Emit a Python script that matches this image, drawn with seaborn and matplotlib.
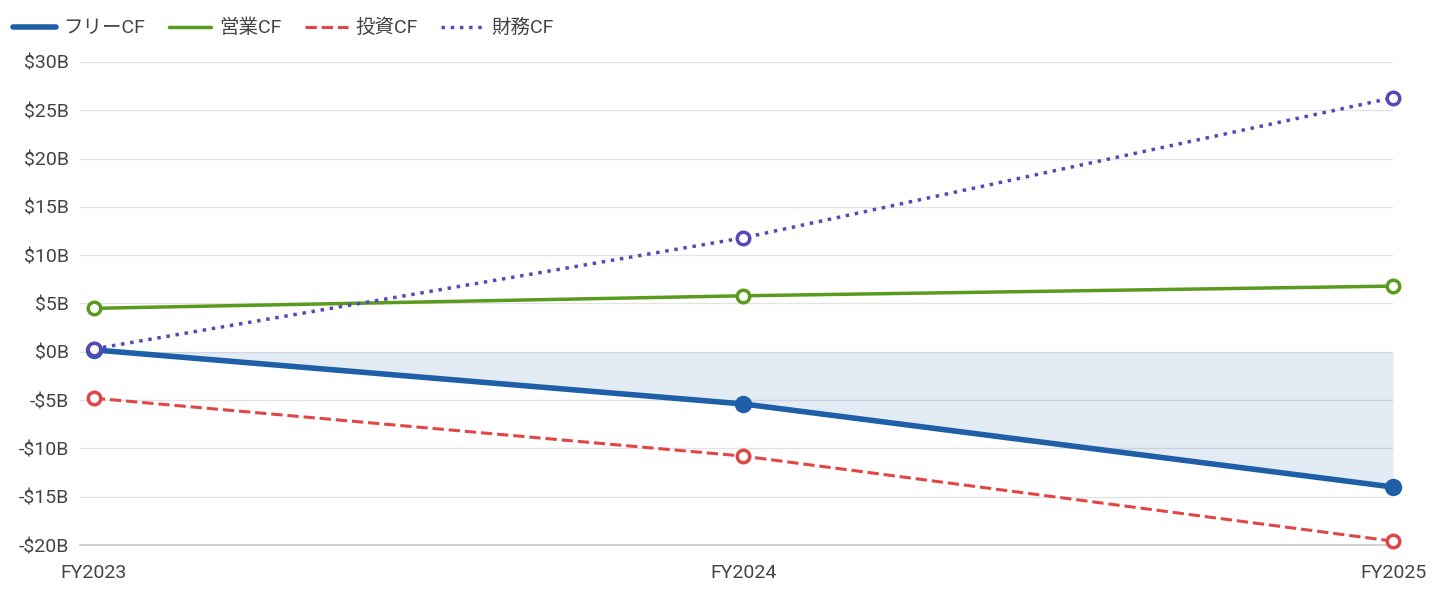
import numpy as np
import pandas as pd
import seaborn as sns
import matplotlib.pyplot as plt

years = ["FY2023", "FY2024", "FY2025"]
free_cf = [0.2, -5.4, -14.0]
operating_cf = [4.5, 5.8, 6.8]
investing_cf = [-4.8, -10.8, -19.6]
financing_cf = [0.3, 11.8, 26.3]
y_ticks = [-20, -15, -10, -5, 0, 5, 10, 15, 20, 25, 30]

sns.set_theme(style="white")
plt.rcParams["font.family"] = ["Roboto", "Noto Sans CJK JP", "DejaVu Sans"]

fig = plt.figure(figsize=(14.4, 6), dpi=100)
ax = fig.add_axes([80 / 1440, 55 / 600, 1313 / 1440, 483 / 600])

x = np.arange(len(years))
series = [
    ("フリーCF", free_cf, "#1f5fa8", "-", 4),
    ("営業CF", operating_cf, "#5a9a1e", "-", 2.5),
    ("投資CF", investing_cf, "#e04646", "--", 2.2),
    ("財務CF", financing_cf, "#5b46b8", ":", 2.5),
]

ax.fill_between(x, free_cf, 0, color="#1f5fa8", alpha=0.12, linewidth=0)

for name, vals, color, ls, lw in series:
    df = pd.DataFrame({"x": x, "y": vals})
    sns.lineplot(data=df, x="x", y="y", ax=ax, color=color, linestyle=ls,
                 linewidth=lw, label=name)
    ax.plot(x, vals, linestyle="none", marker="o", markersize=10 if lw > 3 else 9,
            markerfacecolor="white" if lw < 3 else color, markeredgecolor=color,
            markeredgewidth=2.5, zorder=5, clip_on=False)

ax.set_xlim(-0.0213, 2)
ax.set_ylim(-20, 30)
ax.set_xticks(x)
ax.set_xticklabels(years, fontsize=14, color="#444444")
ax.set_yticks(y_ticks)
ax.set_yticklabels([f"${v}B" if v >= 0 else f"-${-v}B" for v in y_ticks],
                   fontsize=14, color="#444444")
ax.tick_params(axis="both", length=0, pad=8)
ax.tick_params(axis="x", pad=14)
ax.grid(axis="y", color="#e3e3e3", linewidth=1)
ax.set_xlabel("")
ax.set_ylabel("")
for s in ["top", "right", "left"]:
    ax.spines[s].set_visible(False)
ax.spines["bottom"].set_color("#cccccc")

leg = ax.legend(loc="lower left", bbox_to_anchor=(-75 / 1313, 1.035), ncol=4,
                frameon=False, fontsize=14, handlelength=2.2, columnspacing=1.2,
                handletextpad=0.4, borderaxespad=0)
for t in leg.get_texts():
    t.set_color("#444444")

fig.savefig("out.png", dpi=100)
